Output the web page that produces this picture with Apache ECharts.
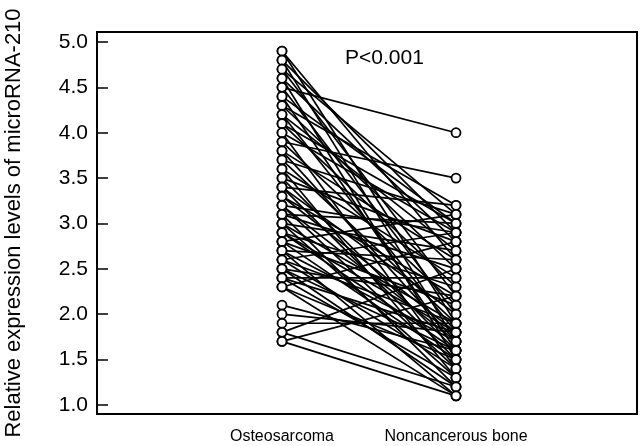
<!DOCTYPE html>
<html>
<head>
<meta charset="utf-8">
<script src="https://cdn.jsdelivr.net/npm/echarts@6/dist/echarts.min.js"></script>
<style>html,body{margin:0;padding:0;background:#fff;}#c{width:641px;height:446px;}</style>
</head>
<body>
<div id="c"></div>
<script>
var groups = ['Osteosarcoma', 'Noncancerous bone'];
var yTicks = [1.0, 1.5, 2.0, 2.5, 3.0, 3.5, 4.0, 4.5, 5.0];
var osteosarcoma = [4.9,4.9,4.8,4.8,4.7,4.7,4.6,4.6,4.5,4.5,4.4,4.4,4.3,4.3,4.2,4.2,4.1,4.1,4.0,4.0,
  3.9,3.9,3.8,3.8,3.7,3.7,3.6,3.6,3.5,3.5,3.4,3.4,3.4,3.3,3.3,3.2,3.2,3.2,3.1,3.1,3.1,3.0,3.0,3.0,
  2.9,2.9,2.9,2.8,2.8,2.8,2.7,2.7,2.7,2.6,2.6,2.6,2.5,2.5,2.5,2.4,2.4,2.4,2.3,2.3,2.3,
  2.1,2.0,1.9,1.8,1.8,1.7,1.7];
var noncancerous = [1.9,2.6,1.7,2.9,2.2,3.1,1.5,2.8,4.0,2.0,3.0,1.6,2.5,3.2,1.8,2.7,2.3,3.0,1.4,2.9,
  3.5,2.1,1.7,2.6,3.1,1.9,2.4,1.3,2.8,1.6,3.2,2.0,1.5,2.2,1.8,2.9,1.4,1.7,2.5,1.2,3.0,1.9,2.7,1.3,
  1.6,2.3,1.8,3.1,1.5,2.1,1.1,2.6,1.7,1.4,2.9,1.9,1.2,2.2,1.6,1.3,2.4,1.8,1.5,2.8,1.1,
  1.6,1.8,1.9,2.5,1.2,1.1,2.2];

var font = 'Arial, "Liberation Sans", Helvetica, sans-serif';
var series = [];
for (var i = 0; i < osteosarcoma.length; i++) {
  series.push({
    type: 'line',
    data: [[1, osteosarcoma[i]], [2, noncancerous[i]]],
    symbol: 'circle',
    symbolSize: 9,
    showAllSymbol: true,
    lineStyle: {color: '#000', width: 1.7},
    itemStyle: {color: '#fff', borderColor: '#000', borderWidth: 1.8},
    emphasis: {disabled: true},
    silent: true
  });
}

var chart = echarts.init(document.getElementById('c'));
chart.setOption({
  animation: false,
  backgroundColor: '#fff',
  title: {
    text: 'P<0.001', left: 340, top: 43,
    textStyle: {fontFamily: font, fontSize: 21, fontWeight: 'normal', color: '#000'}
  },
  grid: {left: 97, right: 4, top: 32, bottom: 32, containLabel: false, outerBoundsMode: 'none',
    show: true, borderColor: '#000', borderWidth: 2, backgroundColor: 'transparent'},
  xAxis: {
    type: 'value', min: -0.063, max: 3.04,
    axisLine: {show: false, onZero: false}, axisTick: {show: false}, splitLine: {show: false},
    axisLabel: {
      customValues: [1, 2],
      formatter: function (v) { return groups[Math.round(v) - 1] || ''; },
      fontFamily: font, fontSize: 16, color: '#000', margin: 15
    }
  },
  yAxis: {
    type: 'value', min: 0.9, max: 5.11,
    name: 'Relative expression levels of microRNA-210',
    nameLocation: 'middle', nameGap: 72,
    nameTextStyle: {fontFamily: font, fontSize: 22, color: '#000'},
    axisLine: {show: false, onZero: false}, splitLine: {show: false},
    axisTick: {show: true, inside: true, length: 11, customValues: yTicks, lineStyle: {color: '#000', width: 1.5}},
    axisLabel: {
      customValues: yTicks,
      formatter: function (v) { return v.toFixed(1); },
      fontFamily: font, fontSize: 21, color: '#000', margin: 9
    }
  },
  series: series
});
</script>
</body>
</html>
